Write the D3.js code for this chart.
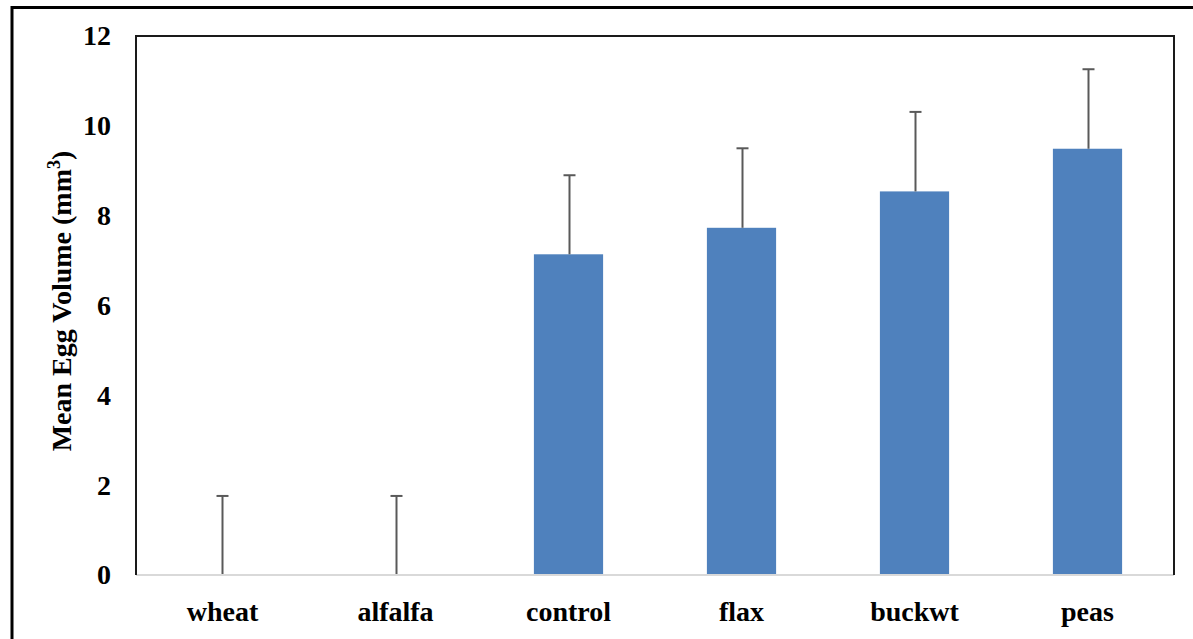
<!DOCTYPE html>
<html>
<head>
<meta charset="utf-8">
<script src="https://cdn.jsdelivr.net/npm/d3@7"></script>
<style>
html,body{margin:0;padding:0;background:#fff;}
svg{display:block;}
</style>
</head>
<body>
<svg id="chart" width="1193" height="639"></svg>
<script>
const categories = ["wheat", "alfalfa", "control", "flax", "buckwt", "peas"];
const means = [0, 0, 7.14, 7.73, 8.54, 9.49];
const errors = [1.76, 1.76, 1.76, 1.77, 1.77, 1.77];
const yTicks = [0, 2, 4, 6, 8, 10, 12];

const svg = d3.select("#chart");
const W = 1193, H = 639;
const plot = {left: 136, right: 1174, top: 36, bottom: 575};

// outer border
svg.append("rect")
  .attr("x", 12).attr("y", 7.5)
  .attr("width", 1200).attr("height", 700)
  .attr("fill", "none").attr("stroke", "#000").attr("stroke-width", 3);

const x = d3.scaleBand().domain(categories)
  .range([plot.left, plot.right]).paddingInner(0.6).paddingOuter(0.3);
const y = d3.scaleLinear().domain([0, 12]).range([plot.bottom, plot.top]);

const font = "'Liberation Serif', 'Times New Roman', serif";

// bars
svg.append("g").selectAll("rect").data(categories).join("rect")
  .attr("x", d => x(d))
  .attr("y", (d, i) => y(means[i]))
  .attr("width", x.bandwidth())
  .attr("height", (d, i) => y(0) - y(means[i]))
  .attr("fill", "#4f81bd");

// error bars
const eb = svg.append("g").attr("stroke", "#595959").attr("stroke-width", 2);
categories.forEach((c, i) => {
  const cx = Math.round(x(c) + x.bandwidth() / 2) + 0.5;
  const top = y(means[i] + errors[i]);
  eb.append("line").attr("x1", cx).attr("x2", cx)
    .attr("y1", y(means[i])).attr("y2", top);
  eb.append("line").attr("x1", cx - 6).attr("x2", cx + 6)
    .attr("y1", top).attr("y2", top);
});

// bottom axis line
svg.append("line")
  .attr("x1", plot.left).attr("x2", plot.right)
  .attr("y1", plot.bottom).attr("y2", plot.bottom)
  .attr("stroke", "#d9d9d9").attr("stroke-width", 2);

// plot frame (left, top, right)
svg.append("path")
  .attr("d", `M${plot.left},${plot.bottom}V${plot.top}H${plot.right}V${plot.bottom}`)
  .attr("fill", "none").attr("stroke", "#1a1a1a").attr("stroke-width", 2);

// y axis labels
const yAxis = d3.axisLeft(y).tickValues(yTicks).tickSize(0).tickPadding(25);
const gy = svg.append("g").attr("transform", `translate(${plot.left},0)`).call(yAxis);
gy.select(".domain").remove();
gy.selectAll("text")
  .attr("font-family", font).attr("font-weight", "bold")
  .attr("font-size", 28).attr("fill", "#000");

// x axis labels
const xAxis = d3.axisBottom(x).tickSize(0).tickPadding(26);
const gx = svg.append("g").attr("transform", `translate(0,${plot.bottom})`).call(xAxis);
gx.select(".domain").remove();
gx.selectAll("text")
  .attr("font-family", font).attr("font-weight", "bold")
  .attr("font-size", 28).attr("fill", "#000");

// y axis title
const t = svg.append("text")
  .attr("transform", "translate(71,301) rotate(-90)")
  .attr("text-anchor", "middle")
  .attr("font-family", font).attr("font-weight", "bold")
  .attr("font-size", 28).attr("fill", "#000");
t.append("tspan").text("Mean Egg Volume (mm");
t.append("tspan").attr("font-size", 18).attr("dy", -11).text("3");
t.append("tspan").attr("dy", 11).text(")");
</script>
</body>
</html>
